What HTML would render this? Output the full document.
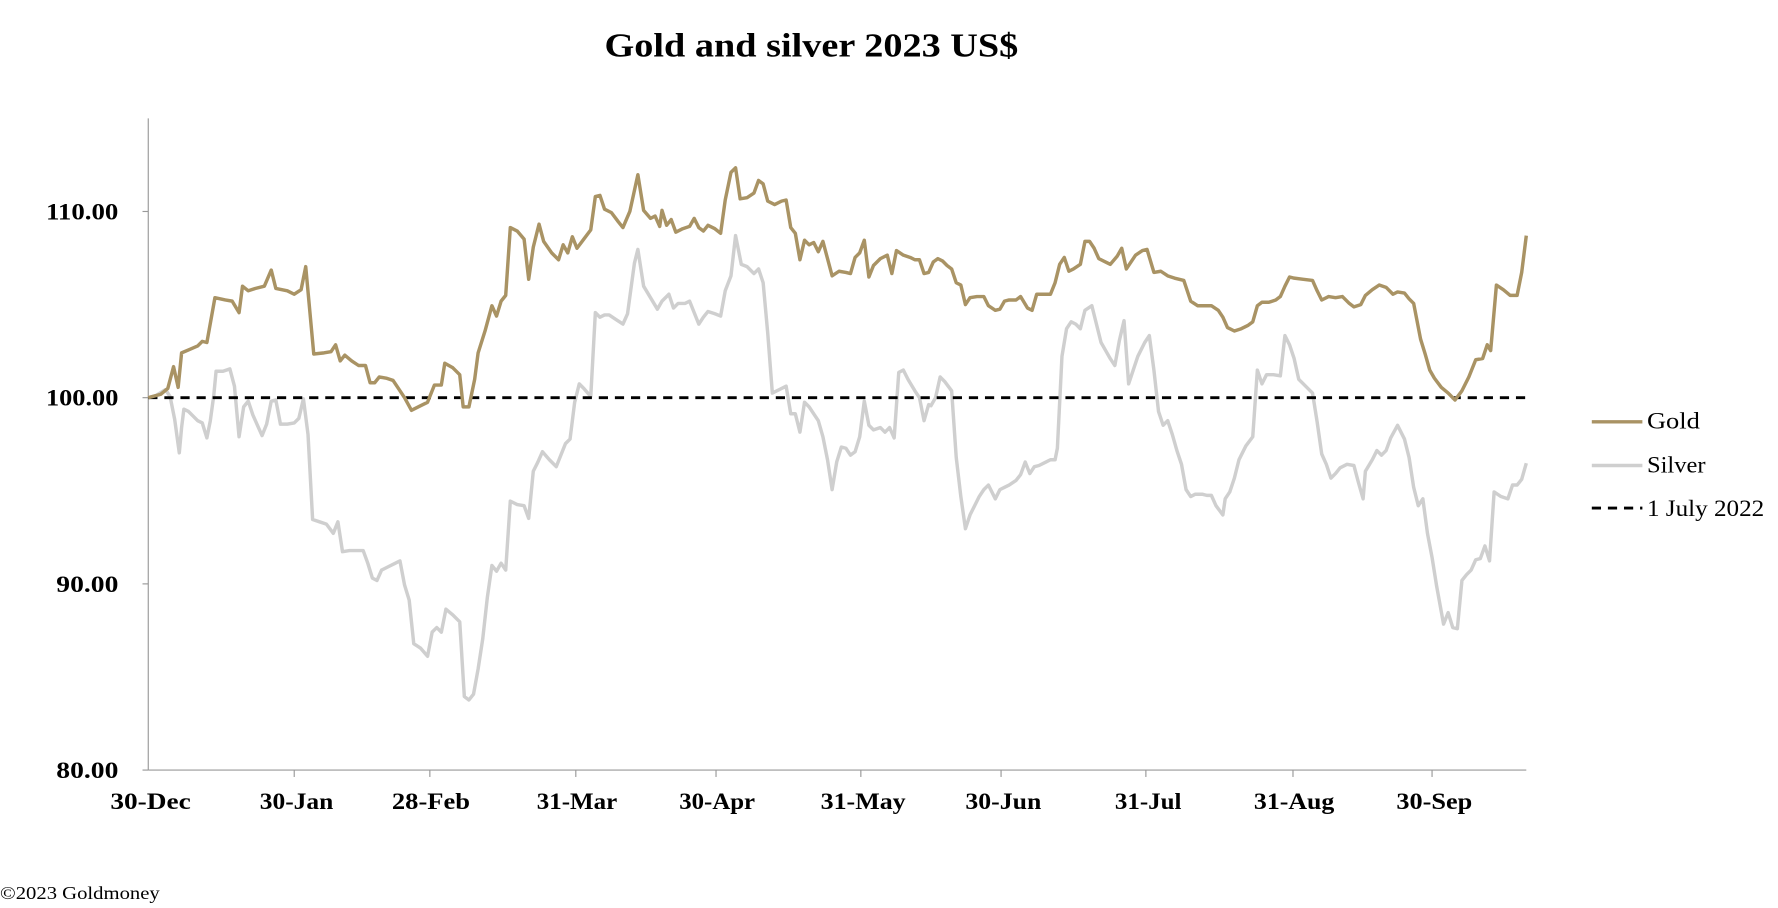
<!DOCTYPE html>
<html><head><meta charset="utf-8"><style>
html,body{margin:0;padding:0;background:#fff;}
svg{display:block;}
text{font-family:"Liberation Serif",serif;fill:#000;}
</style></head><body>
<svg width="1778" height="908" viewBox="0 0 1547 790" preserveAspectRatio="none" xmlns="http://www.w3.org/2000/svg">
<text x="526" y="49" font-size="29" font-weight="bold" textLength="360" lengthAdjust="spacingAndGlyphs">Gold and silver 2023  US$</text>
<g stroke="#999" stroke-width="1" fill="none">
<line x1="129" y1="103" x2="129" y2="670"/>
<line x1="129" y1="670" x2="1328" y2="670"/>
<line x1="124" y1="184" x2="129" y2="184"/><line x1="124" y1="346" x2="129" y2="346"/><line x1="124" y1="508" x2="129" y2="508"/><line x1="124" y1="670" x2="129" y2="670"/>
<line x1="256" y1="670" x2="256" y2="676"/><line x1="374" y1="670" x2="374" y2="676"/><line x1="501" y1="670" x2="501" y2="676"/><line x1="623" y1="670" x2="623" y2="676"/><line x1="749" y1="670" x2="749" y2="676"/><line x1="871" y1="670" x2="871" y2="676"/><line x1="997" y1="670" x2="997" y2="676"/><line x1="1125" y1="670" x2="1125" y2="676"/><line x1="1246" y1="670" x2="1246" y2="676"/>
</g>
<g font-size="20" font-weight="bold" text-anchor="end" lengthAdjust="spacingAndGlyphs">
<text x="103" y="191" textLength="63" lengthAdjust="spacingAndGlyphs">110.00</text><text x="103" y="353" textLength="63" lengthAdjust="spacingAndGlyphs">100.00</text><text x="103" y="515" textLength="54" lengthAdjust="spacingAndGlyphs">90.00</text><text x="103" y="677" textLength="54" lengthAdjust="spacingAndGlyphs">80.00</text>
</g>
<g font-size="20" font-weight="bold" text-anchor="middle">
<text x="131" y="704" textLength="70" lengthAdjust="spacingAndGlyphs">30-Dec</text><text x="258" y="704" textLength="64" lengthAdjust="spacingAndGlyphs">30-Jan</text><text x="375" y="704" textLength="68" lengthAdjust="spacingAndGlyphs">28-Feb</text><text x="502" y="704" textLength="70" lengthAdjust="spacingAndGlyphs">31-Mar</text><text x="624" y="704" textLength="66" lengthAdjust="spacingAndGlyphs">30-Apr</text><text x="751" y="704" textLength="74" lengthAdjust="spacingAndGlyphs">31-May</text><text x="873" y="704" textLength="66" lengthAdjust="spacingAndGlyphs">30-Jun</text><text x="999" y="704" textLength="58" lengthAdjust="spacingAndGlyphs">31-Jul</text><text x="1126" y="704" textLength="70" lengthAdjust="spacingAndGlyphs">31-Aug</text><text x="1248" y="704" textLength="66" lengthAdjust="spacingAndGlyphs">30-Sep</text>
</g>
<polyline fill="none" stroke="#cfcfcf" stroke-width="3" stroke-linejoin="round" points="129,346 136,344 144,339 148,345 152,365 156,394 158,372 160,356 164,358 168,362 172,366 176,368 180,381 183,366 186,344 188,323 194,323 200,321 204,336 208,380 212,354 216,349 220,361 224,370 228,379 232,369 236,349 240,348 244,369 250,369 256,368 260,364 264,347 268,378 272,452 278,454 284,456 290,464 294,454 298,480 304,479 310,479 316,479 320,490 324,503 328,505 332,496 338,493 344,490 348,488 352,509 356,522 360,560 366,564 372,571 376,550 380,546 384,550 388,530 394,535 400,541 404,606 408,609 412,604 416,582 420,556 424,520 428,492 432,497 436,490 440,496 444,436 450,439 456,440 460,451 464,410 468,402 472,393 478,400 484,406 488,396 492,386 496,382 500,350 504,334 508,338 514,345 518,272 522,276 526,274 530,274 536,278 542,282 546,273 552,229 555,217 560,249 566,259 572,269 576,262 582,256 586,268 590,264 596,264 600,262 604,272 608,282 612,276 616,271 622,273 627,275 631,253 636,240 640,205 645,230 650,232 656,238 660,234 664,246 668,290 672,342 678,339 684,336 688,360 692,360 696,376 700,350 704,354 708,360 712,366 716,380 720,400 724,426 728,402 732,389 736,390 740,396 744,393 748,380 752,349 756,370 760,374 766,372 770,376 774,372 778,381 782,324 786,322 790,330 796,340 800,346 804,366 808,352 810,353 814,346 818,328 822,332 828,340 832,398 836,432 840,460 844,448 848,440 852,432 856,426 860,422 866,434 870,426 874,424 878,422 884,418 888,413 892,402 896,412 900,406 904,405 910,402 914,400 918,400 920,390 924,310 928,286 932,280 936,282 940,286 944,270 950,266 954,282 958,298 962,305 966,312 970,318 974,296 978,279 982,334 986,322 990,310 996,298 1000,292 1004,322 1008,358 1012,370 1016,366 1020,378 1024,392 1028,404 1032,426 1036,432 1040,430 1046,430 1050,431 1054,431 1058,440 1064,448 1066,434 1070,428 1074,416 1078,400 1084,388 1090,380 1094,322 1098,334 1102,326 1108,326 1114,327 1118,292 1122,300 1126,312 1130,330 1136,336 1142,342 1146,367 1150,395 1154,404 1158,416 1162,412 1166,407 1172,404 1178,405 1182,420 1186,434 1188,410 1194,400 1198,392 1202,396 1206,392 1210,381 1216,370 1222,382 1226,398 1230,424 1234,440 1238,434 1242,464 1246,485 1250,510 1256,543 1260,533 1264,546 1268,547 1272,505 1276,500 1280,496 1284,487 1288,486 1292,475 1296,488 1300,428 1306,432 1312,434 1316,422 1320,422 1324,417 1328,403"/>
<line x1="129" y1="346" x2="1328" y2="346" stroke="#000" stroke-width="2.5" stroke-dasharray="8,6"/>
<polyline fill="none" stroke="#a99364" stroke-width="3" stroke-linejoin="round" points="129,346 140,343 146,338 151,319 155,337 158,307 165,304 172,301 176,297 180,298 187,259 196,261 202,262 208,272 211,249 216,253 222,251 230,249 236,235 240,251 250,253 256,256 262,252 266,232 273,308 282,307 288,306 292,300 296,314 300,309 306,314 312,318 318,318 322,333 326,333 330,328 336,329 342,331 346,337 352,346 358,357 366,353 372,350 378,335 384,335 387,316 394,320 400,326 403,354 408,354 413,330 416,307 422,288 428,266 432,275 436,262 440,257 444,198 450,201 456,208 460,243 464,215 469,195 473,210 480,220 486,226 490,213 494,220 498,206 502,216 508,208 514,200 518,171 522,170 526,182 532,185 538,193 542,198 548,184 555,152 560,183 566,190 570,188 574,197 576,183 580,196 584,191 588,202 594,199 600,197 604,190 608,198 612,201 616,196 622,199 627,203 631,174 636,150 640,146 644,173 650,172 656,168 660,157 664,160 668,175 674,178 680,175 684,174 688,198 692,203 696,226 700,209 704,213 708,211 712,219 716,210 720,225 724,240 730,236 736,237 740,238 744,224 748,220 752,209 756,241 760,231 766,225 772,222 776,238 780,218 786,222 792,224 796,226 800,226 804,238 808,237 812,228 816,225 820,227 824,231 828,234 832,246 836,248 840,265 844,259 850,258 856,258 860,266 866,270 870,269 874,262 878,261 884,261 888,258 894,268 898,270 902,256 908,256 914,256 918,246 922,230 926,224 930,236 934,234 940,230 944,210 948,210 952,216 956,225 962,228 966,230 972,223 976,216 980,234 984,228 988,222 994,218 998,217 1004,237 1010,236 1016,240 1022,242 1030,244 1036,262 1042,266 1048,266 1054,266 1060,270 1064,276 1068,285 1074,288 1080,286 1086,283 1090,280 1094,266 1098,263 1104,263 1110,261 1114,258 1118,249 1122,241 1126,242 1134,243 1142,244 1146,253 1150,261 1156,258 1162,259 1168,258 1174,264 1178,267 1184,265 1188,257 1194,252 1200,248 1206,250 1212,256 1216,254 1222,255 1226,260 1230,264 1236,295 1240,308 1244,322 1248,329 1254,337 1260,342 1266,348 1272,340 1278,328 1284,313 1290,312 1294,300 1297,305 1302,248 1308,252 1314,257 1320,257 1324,237 1328,205"/>
<line x1="1385" y1="367" x2="1429" y2="367" stroke="#a99364" stroke-width="3"/>
<text x="1433" y="373" font-size="20" textLength="46" lengthAdjust="spacingAndGlyphs">Gold</text>
<line x1="1385" y1="405" x2="1429" y2="405" stroke="#cfcfcf" stroke-width="3"/>
<text x="1433" y="411" font-size="20" textLength="51" lengthAdjust="spacingAndGlyphs">Silver</text>
<line x1="1385" y1="442" x2="1429" y2="442" stroke="#000" stroke-width="2.5" stroke-dasharray="8,6"/>
<text x="1433" y="449" font-size="20" textLength="102" lengthAdjust="spacingAndGlyphs">1 July 2022</text>
<text x="0" y="782" font-size="16" textLength="139" lengthAdjust="spacingAndGlyphs">©2023 Goldmoney</text>
</svg>
</body></html>
